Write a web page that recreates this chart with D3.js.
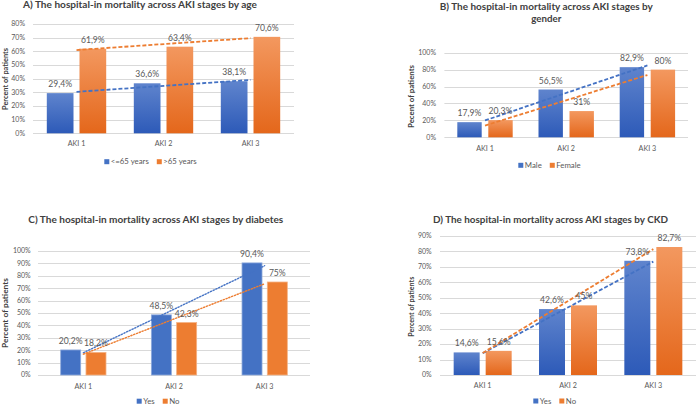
<!DOCTYPE html>
<html><head><meta charset="utf-8">
<script src="https://cdn.jsdelivr.net/npm/d3@7"></script>
<style>html,body{margin:0;padding:0;background:#fff}svg{display:block}text{font-family:Lato,"Open Sans",sans-serif}</style>
</head><body>
<svg id="c" width="696" height="406"></svg>
<script>
// ---- data ----
const categories = ["AKI 1", "AKI 2", "AKI 3"];
const seriesA = ["<=65 years", ">65 years"];
const ageLE65 = [29.4, 36.6, 38.1];
const ageGT65 = [61.9, 63.4, 70.6];
const seriesB = ["Male", "Female"];
const male = [17.9, 56.5, 82.9];
const female = [20.3, 31, 80];
const seriesC = ["Yes", "No"];
const diabYes = [20.2, 48.5, 90.4];
const diabNo = [18.2, 42.3, 75];
const seriesD = ["Yes", "No"];
const ckdYes = [14.6, 42.6, 73.8];
const ckdNo = [15.6, 45, 82.7];
const ticksA = [0, 10, 20, 30, 40, 50, 60, 70, 80];
const ticksB = [0, 20, 40, 60, 80, 100];
const ticksC = [0, 10, 20, 30, 40, 50, 60, 70, 80, 90, 100];
const ticksD = [0, 10, 20, 30, 40, 50, 60, 70, 80, 90];
const titleA = ["A) The hospital-in mortality across AKI stages by age"];
const titleB = ["B) The hospital-in mortality across AKI stages by", "gender"];
const titleC = ["C) The hospital-in mortality across AKI stages by diabetes"];
const titleD = ["D) The hospital-in mortality across AKI stages by CKD"];
const yLabelA = "Percent of patients";
const yLabelB = "Pecent of  patients";
const yLabelC = "Percent of patients";
const yLabelD = "Percent of patients";

const svg = d3.select("#c");
const defs = svg.append("defs");
function grad(id, top, bot) {
  const g = defs.append("linearGradient").attr("id", id).attr("x1", 0).attr("y1", 0).attr("x2", 0).attr("y2", 1);
  g.append("stop").attr("offset", "0%").attr("stop-color", top);
  g.append("stop").attr("offset", "100%").attr("stop-color", bot);
}
grad("gBlue", "#5f84cd", "#2d5ab8");
grad("gOrange", "#f3985f", "#e4671b");
const BLUE = "#4472c4", ORANGE = "#ed7d31";

const fmt = v => String(v).replace(".", ",") + "%";

// ---- layout ----
const panels = [
  {values: [ageLE65, ageGT65], names: seriesA, ticks: ticksA, max: 80, title: titleA, ylabel: yLabelA,
   x: [33, 294], y: [133.3, 24], barW: 26.7, gap: 6, tickX: 25, ylx: 5, yly: 79, ylLen: 62,
   catY: 143.5, legX: 104.3, legY: 161.7, dash: "4,2", lw: 1.8, gradient: true,
   tx: 23, ty: [8], tw: [234], anchor: "start"},
  {values: [male, female], names: seriesB, ticks: ticksB, max: 100, title: titleB, ylabel: yLabelB,
   x: [444.4, 688], y: [137.3, 52.7], barW: 24.4, gap: 6.6, tickX: 436, ylx: 411.7, yly: 96.5, ylLen: 63,
   catY: 148.3, legX: 518.3, legY: 165.3, dash: "4,2", lw: 1.8, gradient: true,
   tx: 546.3, ty: [9.5, 21.5], tw: [213, 30], anchor: "middle"},
  {values: [diabYes, diabNo], names: seriesC, ticks: ticksC, max: 100, title: titleC, ylabel: yLabelC,
   x: [38, 310], y: [375, 251], barW: 20, gap: 5.3, tickX: 30.7, ylx: 5, yly: 313, ylLen: 70,
   catY: 386.7, legX: 136.7, legY: 401.2, dash: "1.3,1.7", lw: 1.4, gradient: false,
   tx: 28.3, ty: [223], tw: [255], anchor: "start"},
  {values: [ckdYes, ckdNo], names: seriesD, ticks: ticksD, max: 90, title: titleD, ylabel: yLabelD,
   x: [440, 696], y: [375, 235.7], barW: 26, gap: 6, tickX: 431.7, ylx: 411.7, yly: 306.7, ylLen: 60,
   catY: 385, legX: 533.3, legY: 401, dash: "4,2", lw: 1.8, gradient: true,
   tx: 433, ty: [222.5], tw: [235], anchor: "start"}
];

panels.forEach(p => {
  const g = svg.append("g");
  const x = d3.scaleBand().domain(categories).range(p.x).paddingInner(0).paddingOuter(0);
  const bw = x.bandwidth();
  const groupW = 2 * p.barW + p.gap;
  const xs = d3.scaleBand().domain(p.names).range([(bw - groupW) / 2, (bw + groupW) / 2])
    .paddingInner(p.gap / (p.barW + p.gap)).paddingOuter(0);
  const y = d3.scaleLinear().domain([0, p.max]).range(p.y);

  // gridlines
  g.append("g").selectAll("line").data(p.ticks).join("line")
    .attr("x1", p.x[0]).attr("x2", p.x[1])
    .attr("y1", d => Math.round(y(d)) + 0.5).attr("y2", d => Math.round(y(d)) + 0.5)
    .attr("stroke", "#d9d9d9").attr("stroke-width", 1);
  // tick labels
  g.append("g").selectAll("text").data(p.ticks).join("text")
    .attr("x", p.tickX).attr("y", d => y(d)).attr("dy", "0.35em")
    .attr("text-anchor", "end").attr("font-size", 7).attr("fill", "#595959")
    .text(d => d + "%");
  // category labels
  g.append("g").selectAll("text").data(categories).join("text")
    .attr("x", d => x(d) + bw / 2).attr("y", p.catY).attr("dy", "0.35em")
    .attr("text-anchor", "middle").attr("font-size", 7.2).attr("fill", "#595959")
    .text(d => d);
  // bars
  const colors = p.gradient ? ["url(#gBlue)", "url(#gOrange)"] : [BLUE, ORANGE];
  const strokes = p.gradient ? ["none", "none"] : ["#8faadc", "#f4b183"];
  p.values.forEach((vals, si) => {
    g.append("g").selectAll("rect").data(vals).join("rect")
      .attr("x", (d, i) => x(categories[i]) + xs(p.names[si]))
      .attr("width", xs.bandwidth())
      .attr("y", d => y(d)).attr("height", d => y(0) - y(d))
      .attr("fill", colors[si]).attr("stroke", strokes[si]).attr("stroke-width", 0.8);
  });
  // trendlines (linear least squares fit over category index)
  p.values.forEach((vals, si) => {
    const n = vals.length, xi = vals.map((d, i) => i + 1);
    const mx = d3.mean(xi), my = d3.mean(vals);
    const slope = d3.sum(xi, (t, i) => (t - mx) * (vals[i] - my)) / d3.sum(xi, t => (t - mx) ** 2);
    const icpt = my - slope * mx;
    const pts = [1, n].map(t => [x(categories[t - 1]) + bw / 2, y(icpt + slope * t)]);
    g.append("path").attr("d", d3.line()(pts)).attr("fill", "none")
      .attr("stroke", si === 0 ? BLUE : ORANGE).attr("stroke-width", p.lw)
      .attr("stroke-dasharray", p.dash).attr("stroke-linecap", p.dash.startsWith("1.") ? "round" : "butt");
  });
  // data labels
  p.values.forEach((vals, si) => {
    g.append("g").selectAll("text").data(vals).join("text")
      .attr("x", (d, i) => x(categories[i]) + xs(p.names[si]) + xs.bandwidth() / 2)
      .attr("y", d => y(d) - 9).attr("dy", "0.35em")
      .attr("text-anchor", "middle").attr("font-size", 8.6).attr("fill", "#595959")
      .text(d => fmt(d));
  });
  // y label
  g.append("text").attr("transform", `translate(${p.ylx},${p.yly}) rotate(-90)`)
    .attr("dy", "0.35em").attr("text-anchor", "middle").attr("font-size", 7.4)
    .attr("font-weight", "bold").attr("fill", "#404040")
    .attr("textLength", p.ylLen).attr("lengthAdjust", "spacingAndGlyphs")
    .text(p.ylabel);
  // title
  p.title.forEach((t, i) => {
    g.append("text").attr("x", p.tx).attr("y", p.ty[i]).attr("text-anchor", p.anchor)
      .attr("font-size", 9.6).attr("font-weight", "bold").attr("fill", "#404040")
      .attr("textLength", p.tw[i]).attr("lengthAdjust", "spacingAndGlyphs")
      .text(t);
  });
  // legend
  const lg = g.append("g");
  let lx = p.legX;
  p.names.forEach((nm, si) => {
    lg.append("rect").attr("x", lx).attr("y", p.legY - 2.5).attr("width", 5).attr("height", 5)
      .attr("fill", si === 0 ? BLUE : ORANGE);
    const t = lg.append("text").attr("x", lx + 6.5).attr("y", p.legY).attr("dy", "0.35em")
      .attr("font-size", 7.8).attr("fill", "#595959").text(nm);
    lx += 6.5 + t.node().getComputedTextLength() + 8;
  });
});
</script>
</body></html>
